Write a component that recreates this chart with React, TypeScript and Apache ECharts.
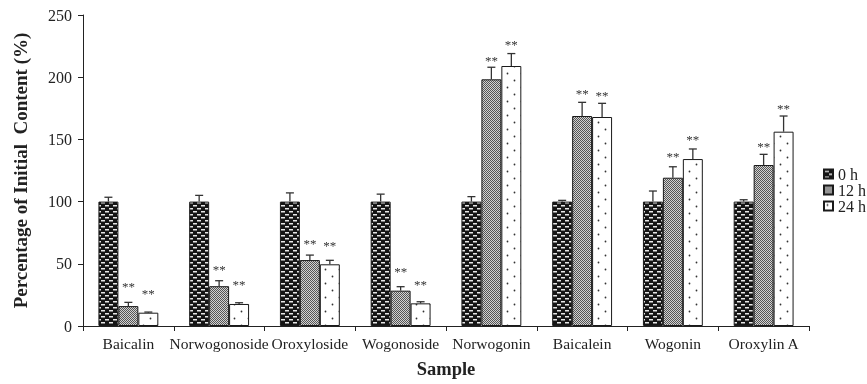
import React, { useEffect, useRef } from 'react';
import * as echarts from 'echarts';

const categories = ['Baicalin', 'Norwogonoside', 'Oroxyloside', 'Wogonoside', 'Norwogonin', 'Baicalein', 'Wogonin', 'Oroxylin A'];
const seriesNames = ['0 h', '12 h', '24 h'];
const yTicks = [0, 50, 100, 150, 200, 250];

const mean0h = [100, 100, 100, 100, 100, 100, 100, 100];
const mean12h = [16, 32, 53, 28.4, 198.3, 168.8, 119.2, 129.4];
const mean24h = [10.7, 17.7, 49.6, 18.2, 209, 168, 134.2, 156.2];

const sd0h = [3.5, 5, 7, 6, 4, 1, 8.5, 1.5];
const sd12h = [3, 4.4, 4, 3.2, 9.7, 11, 8.8, 8.6];
const sd24h = [0.5, 1, 3.2, 1.3, 10, 11, 8.1, 12.6];

// height (in %) at which the "**" significance marks sit
const star12h = [33.8, 48, 69, 46.6, 216, 189, 139, 147];
const star24h = [28.4, 35.4, 67, 35.4, 228.5, 188, 152, 177.6];

const FONT = '"Liberation Serif", "Times New Roman", serif';
const CAT_GAP = 0.34;

function makeTile(w: number, h: number, draw: (ctx: CanvasRenderingContext2D) => void) {
  const c = document.createElement('canvas');
  c.width = w;
  c.height = h;
  const ctx = c.getContext('2d') as CanvasRenderingContext2D;
  draw(ctx);
  return { image: c, repeat: 'repeat', imageWidth: w, imageHeight: h } as any;
}

export default function App() {
  const ref = useRef<HTMLDivElement>(null);
  useEffect(() => {
    if (!ref.current) return;
    const chart = echarts.init(ref.current, undefined, { renderer: 'svg' });

    const pat0 = makeTile(8, 6, (ctx) => {
      ctx.fillStyle = '#151515';
      ctx.fillRect(0, 0, 8, 6);
      ctx.fillStyle = '#e8e8e8';
      ctx.fillRect(1, 1, 4, 1.5);
      ctx.fillRect(5, 4, 3, 1.5);
      ctx.fillRect(0, 4, 1, 1.5);
    });
    const pat12 = makeTile(2, 2, (ctx) => {
      ctx.fillStyle = '#d2d2d2';
      ctx.fillRect(0, 0, 2, 2);
      ctx.fillStyle = '#555555';
      ctx.fillRect(0, 0, 1, 1);
      ctx.fillRect(1, 1, 1, 1);
    });
    const pat24 = makeTile(14, 14, (ctx) => {
      ctx.fillStyle = '#ffffff';
      ctx.fillRect(0, 0, 14, 14);
      ctx.fillStyle = '#333333';
      ctx.beginPath();
      ctx.arc(3.5, 3.5, 0.9, 0, Math.PI * 2);
      ctx.fill();
      ctx.beginPath();
      ctx.arc(10.5, 10.5, 0.9, 0, Math.PI * 2);
      ctx.fill();
    });
    const patterns = [pat0, pat12, pat24];
    const means = [mean0h, mean12h, mean24h];
    const sds = [sd0h, sd12h, sd24h];
    const stars = [null, star12h, star24h];

    const errData: any[] = [];
    for (let s = 0; s < 3; s++) {
      for (let i = 0; i < categories.length; i++) {
        const st = stars[s];
        errData.push([i, s, means[s][i], means[s][i] + sds[s][i], st ? st[i] : -1]);
      }
    }

    const barSeries = seriesNames.map((name, s) => ({
      name,
      type: 'bar',
      data: means[s],
      barGap: 0,
      barCategoryGap: CAT_GAP * 100 + '%',
      itemStyle: { color: patterns[s], borderColor: '#1a1a1a', borderWidth: 1 },
      emphasis: { disabled: true },
    }));

    chart.setOption({
      animation: false,
      grid: { left: 83, right: 58, top: 15, bottom: 58 },
      legend: {
        data: seriesNames,
        orient: 'vertical',
        left: 818,
        top: 161,
        itemWidth: 9,
        itemHeight: 9,
        itemGap: 0,
        icon: 'rect',
        textStyle: { fontFamily: FONT, fontSize: 16, color: '#222' },
      },
      xAxis: {
        type: 'category',
        data: categories,
        name: 'Sample',
        nameLocation: 'middle',
        nameGap: 33,
        nameTextStyle: { fontFamily: FONT, fontSize: 18.5, fontWeight: 'bold', color: '#222' },
        axisLine: { lineStyle: { color: '#222', width: 1 } },
        axisTick: { show: true, length: 5, lineStyle: { color: '#222' } },
        axisLabel: { fontFamily: FONT, fontSize: 15.5, color: '#222', margin: 9, interval: 0, hideOverlap: false },
      },
      yAxis: {
        type: 'value',
        min: 0,
        max: 250,
        interval: 50,
        name: 'Percentage of Initial  Content (%)',
        nameLocation: 'middle',
        nameGap: 53,
        nameTextStyle: { fontFamily: FONT, fontSize: 19, fontWeight: 'bold', color: '#222' },
        axisLine: { show: true, lineStyle: { color: '#222', width: 1 } },
        axisTick: { show: true, length: 5, lineStyle: { color: '#222' } },
        axisLabel: {
          fontFamily: FONT,
          fontSize: 16,
          color: '#222',
          margin: 11,
          formatter: (v: number) => (yTicks.indexOf(v) >= 0 ? String(v) : ''),
        },
        splitLine: { show: false },
      },
      series: [
        ...barSeries,
        {
          type: 'custom',
          name: 'err',
          data: errData,
          z: 5,
          silent: true,
          renderItem: (params: any, api: any) => {
            const ci = api.value(0);
            const si = api.value(1);
            const v = api.value(2);
            const e = api.value(3);
            const st = api.value(4);
            const catW = api.size([1, 0])[0];
            const bw = (catW * (1 - CAT_GAP)) / 3;
            const base = api.coord([ci, v]);
            const top = api.coord([ci, e]);
            const x = base[0] + (si - 1) * bw;
            const children: any[] = [
              {
                type: 'line',
                shape: { x1: x, y1: base[1], x2: x, y2: top[1] },
                style: { stroke: '#333', lineWidth: 1.3 },
              },
              {
                type: 'line',
                shape: { x1: x - 4, y1: top[1], x2: x + 4, y2: top[1] },
                style: { stroke: '#333', lineWidth: 1.3 },
              },
            ];
            if (st > 0) {
              const sp = api.coord([ci, st]);
              children.push({
                type: 'text',
                x: x,
                y: sp[1] + 3,
                style: {
                  text: '**',
                  fontFamily: FONT,
                  fontSize: 13,
                  fill: '#333',
                  align: 'center',
                  verticalAlign: 'middle',
                },
              });
            }
            return { type: 'group', children };
          },
        },
      ],
    });
    return () => chart.dispose();
  }, []);
  return <div ref={ref} style={{ position: 'fixed', left: 0, top: 0, width: 867, height: 384 }} />;
}
